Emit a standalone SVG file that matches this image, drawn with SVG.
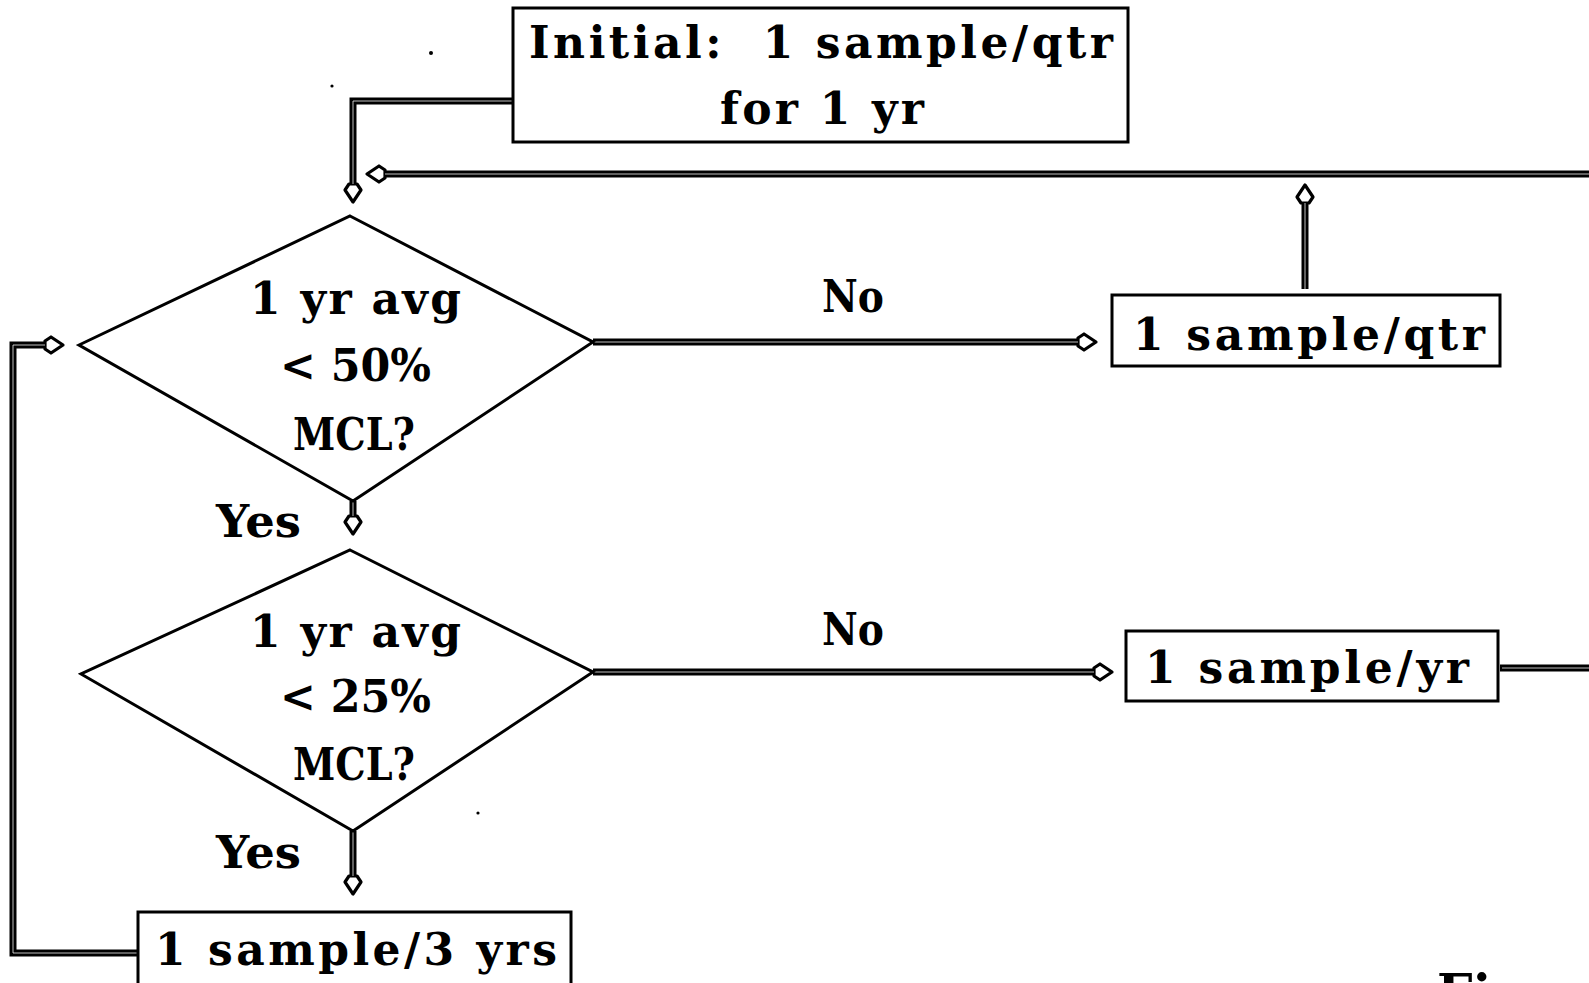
<svg xmlns="http://www.w3.org/2000/svg" width="1589" height="983" viewBox="0 0 1589 983">
<style>
.box{fill:#fff;stroke:#000;stroke-width:3}
.dia{fill:#fff;stroke:#000;stroke-width:3;stroke-linejoin:miter}
.t{font-family:"DejaVu Serif","Liberation Serif",serif;font-weight:bold;font-size:44px;fill:#000}
.outer{fill:none;stroke:#000;stroke-width:7;stroke-linejoin:miter}
.inner{fill:none;stroke:#fff;stroke-width:1;stroke-opacity:0.75;stroke-linejoin:miter}
</style>
<defs>
<marker id="ah" markerUnits="userSpaceOnUse" viewBox="-4 -11 26 22" markerWidth="26" markerHeight="22" refX="0" refY="0" orient="auto" overflow="visible">
<path d="M0,-4 L6,-8 L18,0 L6,8 L0,4 Z" fill="#fff" stroke="#000" stroke-width="3.2" stroke-linejoin="round"/>
</marker>
</defs>
<rect width="1589" height="983" fill="#fff"/>

<g id="connectors">
<path class="outer" d="M513,101 H353 V184" marker-end="url(#ah)"/>
<path class="inner" d="M513,101 H353 V184"/>
<path class="outer" d="M1589,174 H385" marker-end="url(#ah)"/>
<path class="inner" d="M1589,174 H385"/>
<path class="outer" d="M1305,289 V203" marker-end="url(#ah)"/>
<path class="inner" d="M1305,289 V203"/>
<path class="outer" d="M593,342 H1078" marker-end="url(#ah)"/>
<path class="inner" d="M593,342 H1078"/>
<path class="outer" d="M353,501 V516" marker-end="url(#ah)"/>
<path class="inner" d="M353,501 V516"/>
<path class="outer" d="M593,672 H1094" marker-end="url(#ah)"/>
<path class="inner" d="M593,672 H1094"/>
<path class="outer" d="M1500,668 H1589"/>
<path class="inner" d="M1502,668 H1589"/>
<path class="outer" d="M353,831 V876" marker-end="url(#ah)"/>
<path class="inner" d="M353,831 V876"/>
<path class="outer" d="M138,953 H13 V345 H45" marker-end="url(#ah)"/>
<path class="inner" d="M138,953 H13 V345 H45"/>
<text class="t" x="216" y="537" textLength="85" lengthAdjust="spacingAndGlyphs">Yes</text>
<text class="t" x="216" y="868" textLength="85" lengthAdjust="spacingAndGlyphs">Yes</text>
<text class="t" x="822" y="312" textLength="62" lengthAdjust="spacingAndGlyphs">No</text>
<text class="t" x="822" y="645" textLength="62" lengthAdjust="spacingAndGlyphs">No</text>
</g>

<g id="initial">
<rect class="box" x="513" y="8" width="615" height="134"/>
<text class="t" x="529" y="58" textLength="584" xml:space="preserve">Initial:  1 sample/qtr</text>
<text class="t" x="720" y="124" textLength="204">for 1 yr</text>
</g>

<g id="decision50">
<polygon class="dia" points="350,216 593,342 353,501 79,345"/>
<text class="t" x="250" y="314" textLength="211">1 yr avg</text>
<text class="t" x="280" y="381" textLength="151" lengthAdjust="spacingAndGlyphs">&lt; 50%</text>
<text class="t" x="293" y="450" textLength="122" lengthAdjust="spacingAndGlyphs">MCL?</text>
</g>

<g id="qtr">
<rect class="box" x="1112" y="295" width="388" height="71"/>
<text class="t" x="1133" y="350" textLength="352">1 sample/qtr</text>
</g>

<g id="decision25">
<polygon class="dia" points="350,550 593,672 353,831 81,674"/>
<text class="t" x="250" y="647" textLength="211">1 yr avg</text>
<text class="t" x="280" y="712" textLength="151" lengthAdjust="spacingAndGlyphs">&lt; 25%</text>
<text class="t" x="293" y="780" textLength="122" lengthAdjust="spacingAndGlyphs">MCL?</text>
</g>

<g id="yr">
<rect class="box" x="1126" y="631" width="372" height="70"/>
<text class="t" x="1145" y="683" textLength="324">1 sample/yr</text>
</g>

<g id="threeyrs">
<rect class="box" x="138" y="912" width="433" height="90"/>
<text class="t" x="155" y="965" textLength="402">1 sample/3 yrs</text>
</g>

<g id="caption">
<text class="t" x="1437" y="1010" style="font-size:50px">Fi</text>
</g>
<g id="specks" fill="#000">
<circle cx="431" cy="53" r="2"/>
<circle cx="332" cy="86" r="1.6"/>
<circle cx="478" cy="813" r="1.6"/>
</g>
</svg>
